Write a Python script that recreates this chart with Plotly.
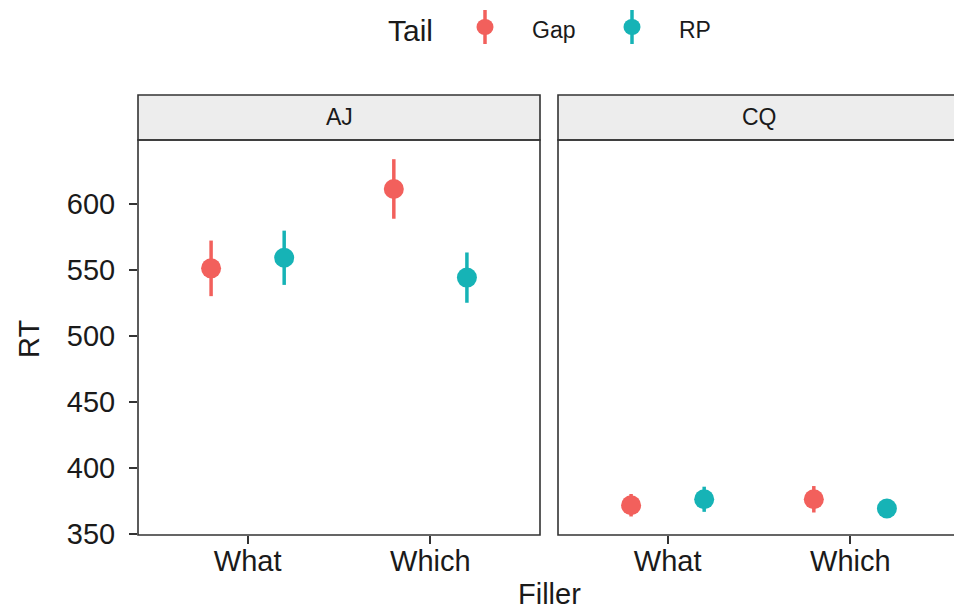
import plotly.graph_objects as go

# Reaction time by filler type, split by group and tail condition
fillers = ["What", "Which"]
groups = ["AJ", "CQ"]
tails = ["Gap", "RP"]

rt_mean = {
    ("AJ", "Gap"): [551, 611],
    ("AJ", "RP"): [559, 544],
    ("CQ", "Gap"): [372, 376.5],
    ("CQ", "RP"): [376.5, 369.5],
}
rt_err = {
    ("AJ", "Gap"): [21, 22.5],
    ("AJ", "RP"): [20.5, 19],
    ("CQ", "Gap"): [8.5, 10],
    ("CQ", "RP"): [9.5, 5],
}

y_ticks = [350, 400, 450, 500, 550, 600]

colors = {"Gap": "#F2605C", "RP": "#16B3B6"}
dodge = {"Gap": -0.2, "RP": 0.2}

W, H = 954, 611
FONT = "Liberation Sans, Arial, sans-serif"
INK = "#333333"
TXT = "#1a1a1a"

def px(xp):
    return xp / W

def py(yp):
    return (H - yp) / H

# panel geometry (pixels)
p1 = (138, 540)
p2 = (558, 954)
top, bottom = 140, 535
strip_top = 95
unit = (p1[1] - p1[0]) / 2.2  # px per category unit

fig = go.Figure()
for gi, g in enumerate(groups):
    for t in tails:
        fig.add_trace(go.Scatter(
            x=[i + 1 + dodge[t] for i in range(len(fillers))],
            y=rt_mean[(g, t)],
            error_y=dict(type="data", array=rt_err[(g, t)], symmetric=True,
                         thickness=3.5, width=0, color=colors[t]),
            mode="markers",
            marker=dict(size=20, color=colors[t], line=dict(width=0)),
            name=t,
            showlegend=False,
            xaxis="x" if gi == 0 else "x2",
            yaxis="y" if gi == 0 else "y2",
        ))

yr = [349.5, 648]
xaxis_common = dict(
    tickmode="array", tickvals=[1, 2], ticktext=fillers,
    ticks="outside", ticklen=8, tickwidth=1.5, tickcolor=INK,
    ticklabelstandoff=-8,
    tickfont=dict(size=29, color=TXT, family=FONT),
    showgrid=False, zeroline=False, showline=False, automargin=False,
)
fig.update_layout(
    width=W, height=H,
    margin=dict(l=0, r=0, t=0, b=0),
    paper_bgcolor="white", plot_bgcolor="white",
    font=dict(family=FONT, color=TXT),
    xaxis=dict(domain=[px(p1[0]), px(p1[1])], range=[0.4, 2.6], **xaxis_common),
    xaxis2=dict(domain=[px(p2[0]), 1], range=[0.4, 0.4 + (p2[1] - p2[0]) / unit],
                anchor="y2", **xaxis_common),
    yaxis=dict(domain=[py(bottom), py(top)], range=yr,
               tickvals=y_ticks, ticks="outside", ticklen=8, tickwidth=1.5,
               tickcolor=INK, ticklabelstandoff=8,
               tickfont=dict(size=29, color=TXT, family=FONT),
               showgrid=False, zeroline=False, showline=False, automargin=False),
    yaxis2=dict(domain=[py(bottom), py(top)], range=yr, anchor="x2",
                showticklabels=False, ticks="", showgrid=False,
                zeroline=False, showline=False, automargin=False),
    showlegend=False,
)

shapes = []
annotations = []
for (x0, x1), label in [(p1, "AJ"), ((p2[0], p2[0] + (p1[1] - p1[0])), "CQ")]:
    # panel border
    shapes.append(dict(type="rect", xref="paper", yref="paper",
                       x0=px(x0), x1=px(x1), y0=py(bottom), y1=py(top),
                       line=dict(color=INK, width=1.6), fillcolor="rgba(0,0,0,0)", layer="above"))
    # strip
    shapes.append(dict(type="rect", xref="paper", yref="paper",
                       x0=px(x0), x1=px(x1), y0=py(top), y1=py(strip_top),
                       line=dict(color=INK, width=1.6), fillcolor="#EDEDED", layer="below"))
    annotations.append(dict(text=label, xref="paper", yref="paper",
                            x=px((x0 + x1) / 2), y=py((top + strip_top) / 2),
                            showarrow=False, xanchor="center", yanchor="middle",
                            font=dict(size=23, color=TXT, family=FONT)))

# axis titles
annotations.append(dict(text="Filler", xref="paper", yref="paper",
                        x=px(549), y=py(594), showarrow=False,
                        xanchor="center", yanchor="middle",
                        font=dict(size=29, color=TXT, family=FONT)))
annotations.append(dict(text="RT", xref="paper", yref="paper",
                        x=px(29), y=py(339), showarrow=False, textangle=-90,
                        xanchor="center", yanchor="middle",
                        font=dict(size=29, color=TXT, family=FONT)))

# legend: title, point-range keys and labels
annotations.append(dict(text="Tail", xref="paper", yref="paper",
                        x=px(410), y=py(30), showarrow=False,
                        xanchor="center", yanchor="middle",
                        font=dict(size=30, color=TXT, family=FONT)))
key_y = py(27)
for t, kx, lx in [("Gap", 485, 530), ("RP", 632, 677)]:
    shapes.append(dict(type="line", xref="paper", yref="paper",
                       xsizemode="pixel", ysizemode="pixel",
                       xanchor=px(kx), yanchor=key_y,
                       x0=0, x1=0, y0=-17, y1=17,
                       line=dict(color=colors[t], width=3.5)))
    shapes.append(dict(type="circle", xref="paper", yref="paper",
                       xsizemode="pixel", ysizemode="pixel",
                       xanchor=px(kx), yanchor=key_y,
                       x0=-8.5, x1=8.5, y0=-8, y1=8,
                       fillcolor=colors[t], line=dict(width=0)))
    annotations.append(dict(text=t, xref="paper", yref="paper",
                            x=px(lx), y=py(30), showarrow=False,
                            xanchor="left", yanchor="middle",
                            font=dict(size=23, color=TXT, family=FONT)))

fig.update_layout(shapes=shapes, annotations=annotations)
fig.write_html("out.html")
